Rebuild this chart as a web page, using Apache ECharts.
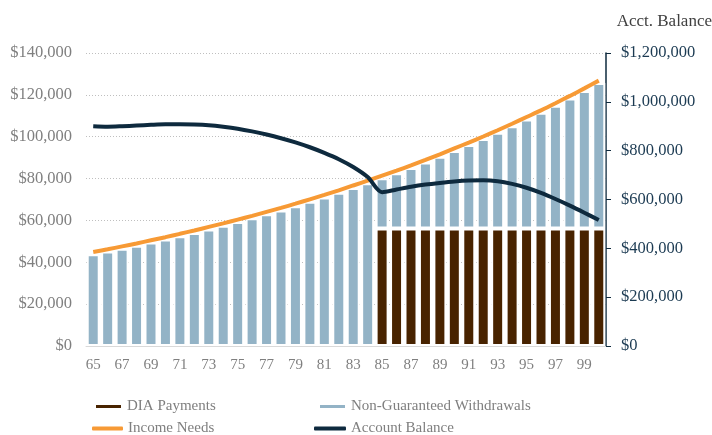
<!DOCTYPE html>
<html>
<head>
<meta charset="utf-8">
<script src="https://cdn.jsdelivr.net/npm/echarts@6/dist/echarts.min.js"></script>
<style>
  html, body { margin: 0; padding: 0; background: #fff; }
  #chart { width: 712px; height: 435px; }
</style>
</head>
<body>
<div id="chart"></div>
<script>
// ages on the x axis
const ages = ['65', '66', '67', '68', '69', '70', '71', '72', '73', '74', '75', '76',
  '77', '78', '79', '80', '81', '82', '83', '84', '85', '86', '87', '88',
  '89', '90', '91', '92', '93', '94', '95', '96', '97', '98', '99', '100']

// DIA payments start at 85
const diaPayments = [null, null, null, null, null, null, null, null, null, null,
  null, null, null, null, null, null, null, null, null, null,
  56200, 56200, 56200, 56200, 56200, 56200, 56200, 56200,
  56200, 56200, 56200, 56200, 56200, 56200, 56200, 56200]

// non-guaranteed withdrawals (stacked on top of DIA after 85)
const nonGuaranteed = [43800, 45100, 46500, 47900, 49400, 50900, 52400, 54000, 55700, 57400,
  59200, 61000, 62900, 64800, 66800, 68900, 71000, 73200, 75500, 77800,
  24000, 26400, 28900, 31500, 34200, 37000, 39800, 42700,
  45700, 48800, 52000, 55200, 58600, 62100, 65700, 69500]

const incomeNeeds = [44900, 46200, 47600, 49000, 50500, 52000, 53600, 55200, 56900, 58600,
  60400, 62200, 64100, 66000, 68000, 70100, 72200, 74400, 76700, 79000,
  81400, 83800, 86300, 88900, 91600, 94400, 97200, 100100,
  103100, 106200, 109400, 112600, 116000, 119500, 123100, 126800]

// right axis
const accountBalance = [900000, 898000, 900000, 903000, 906000, 908000, 908000, 907000, 904000, 898000,
  890000, 879000, 866000, 851000, 834000, 814000, 791000, 765000, 733000, 692000,
  630000, 641000, 652000, 661000, 668000, 674000, 678000, 679000,
  675000, 664000, 648000, 627000, 602000, 575000, 546000, 516000]

const FONT = '"Liberation Serif", "DejaVu Serif", serif'
const money = v => '$' + Number(v).toLocaleString('en-US')

const chart = echarts.init(document.getElementById('chart'))

const legendText = { fontFamily: FONT, fontSize: 15, color: '#7f7f7f' }

const option = {
  animation: false,
  textStyle: { fontFamily: FONT },
  title: {
    text: 'Acct. Balance',
    right: 0,
    top: 13,
    padding: 0,
    textStyle: { fontFamily: FONT, fontSize: 17, fontWeight: 'normal', color: '#404040' }
  },
  grid: { left: 86, right: 106, top: 53, bottom: 89 },
  legend: [
    { data: ['DIA Payments'], left: 94, top: 399, padding: 0, icon: 'rect', itemWidth: 27, itemHeight: 5, textStyle: legendText },
    { data: ['Non-Guaranteed Withdrawals'], left: 318, top: 399, padding: 0, icon: 'rect', itemWidth: 27, itemHeight: 5, textStyle: legendText },
    { data: ['Income Needs'], left: 92, top: 421, padding: 0, icon: 'roundRect', itemWidth: 31, itemHeight: 4, textStyle: legendText },
    { data: ['Account Balance'], left: 314, top: 421, padding: 0, icon: 'roundRect', itemWidth: 32, itemHeight: 4, textStyle: legendText }
  ],
  xAxis: {
    type: 'category',
    data: ages,
    axisLine: { lineStyle: { color: '#d9d9d9', width: 1 } },
    axisTick: { show: false },
    axisLabel: { interval: 1, color: '#7f7f7f', fontSize: 15, fontFamily: FONT, margin: 12 }
  },
  yAxis: [
    {
      type: 'value',
      min: 0,
      max: 140000,
      interval: 20000,
      axisLine: { show: false },
      axisTick: { show: false },
      axisLabel: { formatter: money, color: '#7f7f7f', fontSize: 16.5, fontFamily: FONT, margin: 14 },
      splitLine: { lineStyle: { color: '#bfbfbf', type: [1, 2] } }
    },
    {
      type: 'value',
      min: 0,
      max: 1200000,
      interval: 200000,
      position: 'right',
      axisLine: { show: true, lineStyle: { color: '#0e2a3e', width: 1.5 } },
      axisTick: { show: true, length: 5, lineStyle: { color: '#0e2a3e' } },
      axisLabel: { formatter: money, color: '#1b3a52', fontSize: 16.5, fontFamily: FONT, margin: 15 },
      splitLine: { show: false }
    }
  ],
  series: [
    {
      name: 'DIA Payments',
      type: 'bar',
      stack: 'income',
      data: diaPayments,
      barCategoryGap: '10%',
      itemStyle: { color: '#482300', borderColor: '#ffffff', borderWidth: 2 }
    },
    {
      name: 'Non-Guaranteed Withdrawals',
      type: 'bar',
      stack: 'income',
      data: nonGuaranteed,
      itemStyle: { color: '#93b3c6', borderColor: '#ffffff', borderWidth: 2 }
    },
    {
      name: 'Income Needs',
      type: 'line',
      data: incomeNeeds,
      smooth: 0.3,
      symbol: 'none',
      z: 3,
      lineStyle: { color: '#f79a35', width: 4 },
      itemStyle: { color: '#f79a35' }
    },
    {
      name: 'Account Balance',
      type: 'line',
      yAxisIndex: 1,
      data: accountBalance,
      smooth: 0.3,
      symbol: 'none',
      z: 4,
      lineStyle: { color: '#0e2a3e', width: 4 },
      itemStyle: { color: '#0e2a3e' }
    }
  ]
}

chart.setOption(option)
</script>
</body>
</html>
